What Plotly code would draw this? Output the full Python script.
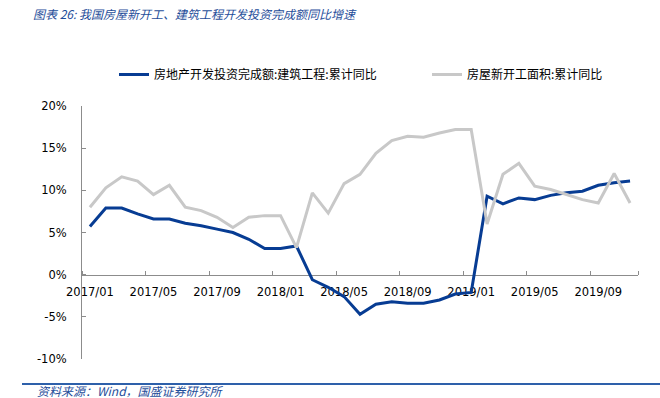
import plotly.graph_objects as go

months = ["2017/01","2017/02","2017/03","2017/04","2017/05","2017/06","2017/07","2017/08","2017/09","2017/10","2017/11","2017/12",
          "2018/01","2018/02","2018/03","2018/04","2018/05","2018/06","2018/07","2018/08","2018/09","2018/10","2018/11","2018/12",
          "2019/01","2019/02","2019/03","2019/04","2019/05","2019/06","2019/07","2019/08","2019/09","2019/10","2019/11"]

invest_construction = [5.7, 7.9, 7.9, 7.2, 6.6, 6.6, 6.1, 5.8, 5.4, 5.0, 4.2, 3.1,
                       3.1, 3.4, -0.6, -1.5, -2.6, -4.7, -3.5, -3.2, -3.4, -3.4, -3.0, -2.3,
                       -2.1, 9.3, 8.4, 9.1, 8.9, 9.4, 9.7, 9.9, 10.6, 10.9, 11.1]

new_starts_area = [8.0, 10.3, 11.6, 11.1, 9.5, 10.6, 8.0, 7.6, 6.8, 5.6, 6.8, 7.0,
                   7.0, 3.2, 9.7, 7.3, 10.8, 11.9, 14.4, 15.9, 16.4, 16.3, 16.8, 17.2,
                   17.2, 6.0, 11.9, 13.2, 10.5, 10.1, 9.5, 8.9, 8.5, 12.0, 8.5]

series_names = ["房地产开发投资完成额:建筑工程:累计同比", "房屋新开工面积:累计同比"]
y_tick_vals = [-10, -5, 0, 5, 10, 15, 20]
y_tick_text = ["-10%", "-5%", "0%", "5%", "10%", "15%", "20%"]
x_label_step = 4

title_text = "图表 26: 我国房屋新开工、建筑工程开发投资完成额同比增速"
source_text = "资料来源：Wind，国盛证券研究所"

idx = list(range(len(months)))
label_idx = idx[::x_label_step]

BLUE = "#073C93"
GRAY = "#C8C8C8"
AXIS = "#8C8C8C"
TXT_BLUE = "#1F4E9A"

W, H = 660, 398
ml, mr, mt, mb = 82, 22, 106, 39
pw, ph = W - ml - mr, H - mt - mb

def px_to_paper_x(px):
    return (px - ml) / pw

def px_to_paper_y(py):
    return (H - mb - py) / ph

fig = go.Figure()
fig.add_trace(go.Scatter(x=idx, y=invest_construction, mode="lines", name=series_names[0],
                         line=dict(color=BLUE, width=3), legend="legend"))
fig.add_trace(go.Scatter(x=idx, y=new_starts_area, mode="lines", name=series_names[1],
                         line=dict(color=GRAY, width=3), legend="legend2"))

legend_common = dict(orientation="h", xanchor="left", yanchor="middle",
                     y=px_to_paper_y(74.5),
                     font=dict(family="Noto Sans CJK SC", size=12, color="#000000"),
                     bgcolor="rgba(0,0,0,0)")

fig.update_layout(
    width=W, height=H,
    margin=dict(l=ml, r=mr, t=mt, b=mb, autoexpand=False),
    paper_bgcolor="white", plot_bgcolor="white",
    font=dict(family="DejaVu Sans", size=11.5, color="#000000"),
    title=dict(text=title_text, x=33 / W, xanchor="left", y=1 - 15 / H, yanchor="middle",
               xref="container", yref="container",
               font=dict(family="Noto Sans CJK SC", size=12, color=TXT_BLUE, style="italic")),
    showlegend=True,
    legend=dict(x=px_to_paper_x(114), **legend_common),
    legend2=dict(x=px_to_paper_x(427), **legend_common),
    xaxis=dict(
        range=[-0.5, len(months) - 0.5],
        anchor="free", position=1 / 3,
        showline=True, linecolor=AXIS, linewidth=1,
        showgrid=False, zeroline=False,
        tickmode="array", tickvals=label_idx, ticktext=[months[i] for i in label_idx],
        ticks="", ticklabelstandoff=7,
        minor=dict(tickmode="array", tickvals=[i - 0.5 for i in label_idx] + [len(months) - 0.5],
                   ticks="inside", ticklen=4, tickcolor=AXIS, showgrid=False),
        layer="below traces",
        tickfont=dict(family="DejaVu Sans", size=11.5, color="#000000"),
    ),
    yaxis=dict(
        range=[-10, 20],
        tickmode="array", tickvals=y_tick_vals, ticktext=y_tick_text,
        showline=True, linecolor=AXIS, linewidth=1,
        ticks="inside", ticklen=4, tickcolor=AXIS,
        showgrid=False, zeroline=False, ticklabelstandoff=12,
        tickfont=dict(family="DejaVu Sans", size=11.5, color="#000000"),
    ),
)

fig.add_annotation(text=source_text, xref="paper", yref="paper",
                   x=px_to_paper_x(35), y=px_to_paper_y(390.5), xanchor="left", yanchor="middle",
                   showarrow=False,
                   font=dict(family="Noto Sans CJK SC", size=12, color=TXT_BLUE, style="italic"))
fig.add_shape(type="line", xref="paper", yref="paper",
              x0=px_to_paper_x(22), x1=px_to_paper_x(662), y0=px_to_paper_y(384), y1=px_to_paper_y(384),
              line=dict(color="#2E60AA", width=2))

fig.write_html("out.html", config={"displayModeBar": False},
               post_script="document.body.style.margin='0px';document.body.style.overflow='hidden';")
